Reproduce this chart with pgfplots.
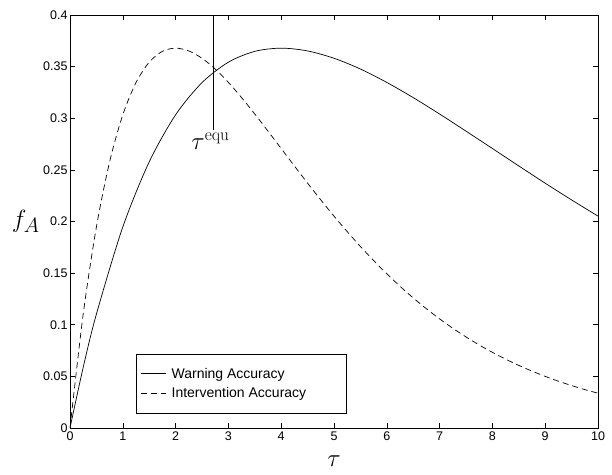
\documentclass[border=0pt]{standalone}
\usepackage{pgfplots}
\pgfplotsset{compat=1.18}
\usepackage[no-math]{fontspec}
\setmainfont{Liberation Sans}

\begin{document}
\begin{tikzpicture}
\begin{axis}[
    scale only axis,
    width=528pt, height=413pt,
    xmin=0, xmax=10, ymin=0, ymax=0.4,
    xtick={0,1,...,10},
    ytick={0,0.05,0.1,0.15,0.2,0.25,0.3,0.35,0.4},
    yticklabels={0,0.05,0.1,0.15,0.2,0.25,0.3,0.35,0.4},
    tick align=inside,
    major tick length=5pt,
    tick style={black, line width=0.6pt},
    axis line style={line width=0.7pt},
    ticklabel style={font=\fontsize{12.5}{14}\selectfont},
    yticklabel style={xshift=1pt},
    /pgf/number format/assume math mode=true,
    xlabel={$\tau$},
    xlabel style={font=\fontsize{24}{28}\selectfont, yshift=-9pt},
    ylabel={$f_{A}$},
    ylabel style={font=\fontsize{30}{34}\selectfont, rotate=-90, at={(axis description cs:-0.057,0.5)}, anchor=east, inner sep=0pt},
    legend style={at={(0.125,0.035)}, anchor=south west, draw=black, line width=0.6pt,
        font=\fontsize{14}{16}\selectfont, inner xsep=4pt, inner ysep=12pt, row sep=4pt,
        /tikz/every odd column/.style={column sep=3pt}},
    legend image code/.code={\draw[#1] plot coordinates {(0cm,0cm)(0.9cm,0cm)};},
    legend image post style={line width=0.7pt},
    legend cell align=left,
    every axis plot/.append style={line width=0.7pt, black},
]
\addplot[smooth] coordinates {
(0,0)(0.25,0.0587)(0.5,0.1103)(1,0.1947)(1.5,0.2577)(2,0.3033)(2.5,0.3345)
(3,0.3543)(3.5,0.3648)(4,0.3679)(4.5,0.3652)(5,0.3581)(5.5,0.3477)(6,0.3347)
(6.5,0.3200)(7,0.3041)(7.5,0.2875)(8,0.2707)(8.5,0.2538)(9,0.2371)(9.5,0.2209)(10,0.2052)
};
\addlegendentry{Warning Accuracy}
\addplot[smooth, dash pattern=on 6pt off 4pt] coordinates {
(0,0)(0.25,0.1103)(0.5,0.1947)(0.75,0.2577)(1,0.3033)(1.25,0.3345)(1.5,0.3543)
(1.75,0.3648)(2,0.3679)(2.25,0.3652)(2.5,0.3581)(2.75,0.3477)(3,0.3347)(3.25,0.3200)
(3.5,0.3041)(3.75,0.2875)(4,0.2707)(4.25,0.2538)(4.5,0.2371)(4.75,0.2209)(5,0.2052)
(5.25,0.1902)(5.5,0.1758)(5.75,0.1622)(6,0.1494)(6.25,0.1373)(6.5,0.1260)(6.75,0.1155)
(7,0.1057)(7.25,0.0966)(7.5,0.0882)(7.75,0.0804)(8,0.0733)(8.25,0.0667)(8.5,0.0606)
(8.75,0.0551)(9,0.0500)(9.25,0.0453)(9.5,0.0411)(9.75,0.0372)(10,0.0337)
};
\addlegendentry{Intervention Accuracy\rule{34pt}{0pt}}
% marker for tau^equ
\addplot[forget plot] coordinates {(2.72,0.289)(2.72,0.4)};
\node[anchor=north, font=\fontsize{25}{28}\selectfont, inner sep=1pt] at (axis cs:2.66,0.287) {$\tau^{\mathrm{equ}}$};
\end{axis}
\pgfresetboundingbox
\path (current axis.south west) ++(-70pt,-46pt) rectangle ++(612pt,474pt);
\end{tikzpicture}
\end{document}
